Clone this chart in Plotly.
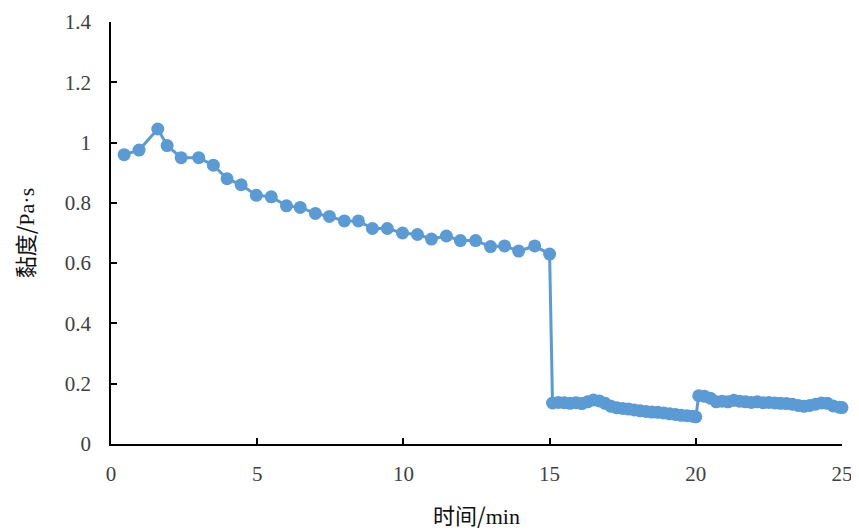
import plotly.graph_objects as go

time_min = [0.45, 0.96, 1.6, 1.92, 2.4, 3.0, 3.5, 3.97, 4.45, 4.97, 5.48, 6.0, 6.47, 6.99,
            7.47, 7.98, 8.46, 8.94, 9.45, 9.97, 10.48, 10.96, 11.47, 11.95, 12.47, 12.98,
            13.46, 13.94, 14.49, 15.0,
            15.1, 15.3, 15.5, 15.7, 15.9, 16.1, 16.3, 16.5, 16.7, 16.9, 17.1, 17.3, 17.5,
            17.7, 17.9, 18.1, 18.3, 18.5, 18.7, 18.9, 19.1, 19.3, 19.5, 19.7, 19.9, 20.0,
            20.1, 20.3, 20.5, 20.7, 20.9, 21.1, 21.3, 21.5, 21.7, 21.9, 22.1, 22.3, 22.5,
            22.7, 22.9, 23.1, 23.3, 23.5, 23.7, 23.9, 24.1, 24.3, 24.5, 24.7, 24.9, 25.0]
viscosity = [0.96, 0.975, 1.045, 0.99, 0.95, 0.95, 0.925, 0.88, 0.86, 0.825, 0.82, 0.79,
             0.785, 0.765, 0.755, 0.74, 0.74, 0.715, 0.715, 0.70, 0.695, 0.68, 0.69, 0.675,
             0.675, 0.655, 0.657, 0.64, 0.657, 0.63,
             0.136, 0.138, 0.137, 0.135, 0.137, 0.134, 0.140, 0.146, 0.143, 0.135, 0.125,
             0.120, 0.118, 0.116, 0.113, 0.110, 0.108, 0.106, 0.105, 0.103, 0.100, 0.098,
             0.095, 0.094, 0.092, 0.090,
             0.160, 0.158, 0.152, 0.140, 0.142, 0.140, 0.145, 0.142, 0.140, 0.138, 0.140,
             0.137, 0.138, 0.136, 0.135, 0.134, 0.132, 0.128, 0.125, 0.128, 0.132, 0.136,
             0.135, 0.126, 0.122, 0.121]

x_ticks = [0, 5, 10, 15, 20, 25]
y_ticks = [0, 0.2, 0.4, 0.6, 0.8, 1.0, 1.2, 1.4]
y_tick_text = ["0", "0.2", "0.4", "0.6", "0.8", "1", "1.2", "1.4"]

color = "#5B9BD5"
serif = "Liberation Serif, Times New Roman, serif"
cjk = "Noto Sans CJK SC"

x_title = f"<span style='font-family:{cjk}'>时间/</span>min"
y_title = f"<span style='font-family:{cjk}'>黏度/</span>Pa·s"

fig = go.Figure(go.Scatter(
    x=time_min, y=viscosity, mode="lines+markers",
    line=dict(color=color, width=3),
    marker=dict(color=color, size=13),
    showlegend=False, cliponaxis=False,
))

fig.update_layout(
    width=851, height=523,
    margin=dict(l=103, r=17, t=14, b=87, autoexpand=False),
    paper_bgcolor="white", plot_bgcolor="white",
    font=dict(family=serif, size=21, color="#404040"),
    xaxis=dict(
        range=[0, 25], tickvals=x_ticks, showgrid=False, zeroline=False,
        showline=True, linecolor="black", linewidth=1.6,
        ticks="inside", ticklen=6, tickwidth=1.6, tickcolor="black",
        ticklabelstandoff=10, automargin=False,
        title=dict(text=x_title, font=dict(family=serif, size=22, color="#111111"),
                   standoff=24),
    ),
    yaxis=dict(
        range=[0, 1.4], tickvals=y_ticks, ticktext=y_tick_text, showgrid=False,
        zeroline=False, showline=True, linecolor="black", linewidth=1.6,
        ticks="inside", ticklen=6, tickwidth=1.6, tickcolor="black",
        ticklabelstandoff=14, automargin=False,
        title=dict(text=y_title, font=dict(family=serif, size=22, color="#111111"),
                   standoff=24),
    ),
)

fig.write_html("out.html")
